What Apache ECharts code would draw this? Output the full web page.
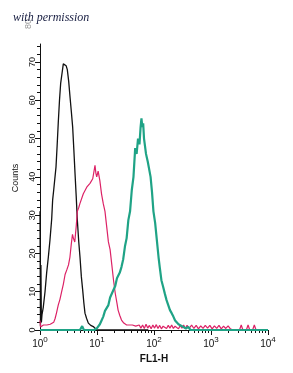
<!DOCTYPE html>
<html>
<head>
<meta charset="utf-8">
<script src="https://cdn.jsdelivr.net/npm/echarts@6/dist/echarts.min.js"></script>
<style>html,body{margin:0;padding:0;background:#fff}#c{width:293px;height:373px}</style>
</head>
<body>
<div id="c"></div>
<script>
// x positions are log10(FL1-H) (decades); y are counts
const blackL = [0.000,0.008,0.016,0.024,0.035,0.058,0.088,0.117,0.146,0.175,0.205,0.222,0.240,0.258,0.281,0.300,0.320,0.342,0.363,0.386,0.409,0.424,0.439,0.459,0.479,0.503,0.526,0.550,0.573,0.594,0.614,0.635,0.655,0.680,0.702,0.725,0.749,0.770,0.789,0.818,0.848,0.890,0.935,0.995,1.300,1.900];
const blackCounts = [31,1,17,2,4,6,10,15,19,23.5,29,34,36.5,36,42.6,48,54,60,64.5,67,69.5,69,70,69,68,65,61,57,53,47,41,35,28.7,23,19,14,10.4,7,4.4,3,1.8,1.2,0.9,0,0,0];

const pinkL = [0.000,0.010,0.030,0.060,0.090,0.120,0.150,0.180,0.210,0.240,0.265,0.290,0.320,0.350,0.380,0.410,0.440,0.470,0.500,0.525,0.550,0.570,0.585,0.610,0.635,0.655,0.680,0.700,0.730,0.760,0.790,0.820,0.850,0.877,0.905,0.925,0.945,0.965,0.980,0.995,1.020,1.050,1.080,1.110,1.140,1.170,1.200,1.230,1.260,1.290,1.320,1.350,1.370,1.400,1.430,1.470,1.520,1.570,1.620,1.680,1.740,1.770,1.800,1.830,1.860,1.890,1.920,1.950,1.980,2.010,2.040,2.070,2.100,2.130,2.160,2.190,2.220,2.250,2.280,2.310,2.340,2.370,2.400,2.430,2.460,2.490,2.520,2.550,2.580,2.620,2.660,2.700,2.740,2.780,2.820,2.860,2.900,2.940,2.980,3.020,3.060,3.100,3.140,3.180,3.220,3.260,3.300,3.340,3.380,3.500,3.530,3.560,3.620,3.650,3.680,3.730,3.760,3.790,3.900];
const pinkCounts = [2.5,0.8,0.8,1.3,1.3,1.3,1.3,1.5,1.5,2.0,3.0,4.5,6.5,8,10,12,14.5,15.7,17,19,22.6,25,24,23,27,31,32,33,33.5,35.6,36,37.3,37.5,38.3,38,39.5,39,43,41,40,41.5,39,35.5,33,31,27,23,21,17,13,9.6,7,5.2,3.8,2.6,1.8,1.3,1.3,1.3,1.0,1.3,0.5,1.3,0.4,1.5,0.5,1.2,0.3,1.3,0.5,1.4,0.4,1.2,0.3,1.0,1.3,0.4,1.2,0.5,1.3,0.4,1.0,1.3,0.3,1.2,0.5,1.3,0.4,1.2,0.5,1.3,0.4,1.2,0.3,1.1,0.4,1.2,0.5,1.2,0.3,1.1,0.4,1.2,0.3,1.0,0.4,1.1,0.3,0,0,1.3,0,0,1.3,0,0,1.3,0,0];

const tealL = [0.00,0.70,0.74,0.77,0.95,1.00,1.05,1.08,1.11,1.14,1.17,1.20,1.23,1.26,1.29,1.32,1.35,1.38,1.40,1.43,1.46,1.49,1.52,1.55,1.58,1.61,1.64,1.67,1.695,1.72,1.745,1.765,1.78,1.795,1.81,1.825,1.84,1.86,1.875,1.89,1.91,1.94,1.965,1.99,2.02,2.05,2.08,2.10,2.13,2.16,2.19,2.22,2.25,2.28,2.31,2.34,2.37,2.40,2.43,2.46,2.49,2.52,2.56,2.60,2.64,4.00];
const tealCounts = [0,0,1,0,0,0.5,1.5,2.5,3.5,5,5,6.5,8.5,8,10.5,11.5,13.5,14,15,16.5,18.5,21.8,24,28.7,31,36.5,40,47.5,46,50,48.5,53,55.3,53,54,50,49.6,46,45,44,44.5,40,36,31,28,23.5,19,16.5,13,11.3,9.5,7.8,6.5,5.2,4.4,3.5,2.5,2.2,1.5,2.0,1.0,1.3,0.4,0.8,0,0];

const yMajorTicks = [0,10,20,30,40,50,60,70];
const xDecades = [0,1,2,3,4];

const pairs = (xs, ys) => xs.map((x, i) => [x, ys[i]]);
const yMinor = [];
for (let v = 0; v <= 74; v += 2) yMinor.push(v);
const xMinor = [];
for (let d = 0; d < 4; d++) for (let k = 2; k <= 9; k++) xMinor.push(d + Math.log10(k));

const chart = echarts.init(document.getElementById('c'), null, {renderer: 'canvas'});
const axisColor = '#111';
chart.setOption({
  animation: false,
  backgroundColor: '#fff',
  title: {
    text: 'with permission', left: 8, top: 7,
    textStyle: {fontFamily: 'Liberation Serif', fontStyle: 'italic', fontWeight: 'normal', fontSize: 12, color: '#161c40'}
  },
  graphic: [{
    type: 'text', x: 24, y: 29, rotation: Math.PI / 2,
    style: {text: '80', fontFamily: 'Liberation Sans', fontSize: 9, fill: '#9a9a9a'}
  }],
  grid: {left: 40, right: 25, top: 44, bottom: 43},
  xAxis: [{
    type: 'value', min: 0, max: 4,
    axisLine: {show: true, lineStyle: {color: axisColor, width: 1}},
    axisTick: {show: true, customValues: xDecades, length: 5, lineStyle: {color: axisColor}},
    axisLabel: {
      customValues: xDecades, margin: 6, color: '#111',
      formatter: v => '{b|10}{s|' + v + '}',
      rich: {
        b: {fontSize: 10, fontFamily: 'Liberation Sans', color: '#111', verticalAlign: 'bottom'},
        s: {fontSize: 8, fontFamily: 'Liberation Sans', color: '#111', verticalAlign: 'bottom', padding: [0, 0, 5, 0]}
      }
    },
    splitLine: {show: false},
    name: 'FL1-H', nameLocation: 'middle', nameGap: 16,
    nameTextStyle: {fontFamily: 'Liberation Sans', fontWeight: 'bold', fontSize: 10, color: '#111'}
  }, {
    type: 'value', min: 0, max: 4, position: 'bottom',
    axisLine: {show: false},
    axisTick: {show: true, customValues: xMinor, length: 3, lineStyle: {color: axisColor}},
    axisLabel: {show: false}, splitLine: {show: false}
  }],
  yAxis: [{
    type: 'value', min: 0, max: 74.7,
    axisLine: {show: true, lineStyle: {color: axisColor, width: 1}},
    axisTick: {show: true, customValues: yMajorTicks, length: 5, lineStyle: {color: axisColor}},
    axisLabel: {customValues: yMajorTicks, rotate: 90, margin: 3, fontSize: 9, fontFamily: 'Liberation Sans', color: '#111'},
    splitLine: {show: false},
    name: 'Counts', nameLocation: 'middle', nameGap: 19,
    nameTextStyle: {fontFamily: 'Liberation Sans', fontSize: 9, color: '#111', padding: [0, 0, 0, 18]}
  }, {
    type: 'value', min: 0, max: 74.7, position: 'left',
    axisLine: {show: false},
    axisTick: {show: true, customValues: yMinor, length: 3, lineStyle: {color: axisColor}},
    axisLabel: {show: false}, splitLine: {show: false}
  }],
  series: [
    {type: 'line', data: pairs(blackL, blackCounts), showSymbol: false, lineStyle: {color: '#111', width: 1.3}, z: 3},
    {type: 'line', data: pairs(pinkL, pinkCounts), showSymbol: false, lineStyle: {color: '#dc2266', width: 1.2}, z: 4},
    {type: 'line', data: pairs(tealL, tealCounts), showSymbol: false, lineStyle: {color: '#1fa386', width: 2.2}, z: 5}
  ]
});
</script>
</body>
</html>
